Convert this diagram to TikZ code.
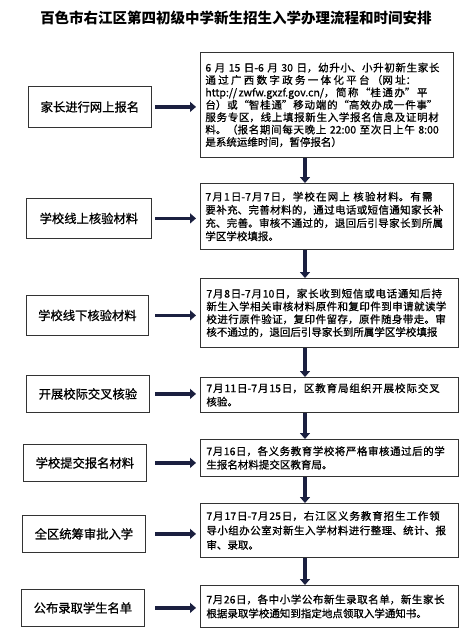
\documentclass[tikz,border=0pt]{standalone}
\usepackage{fontspec}
\setmainfont{Noto Sans CJK SC}
\newfontfamily\bodyfont[FakeBold=0.8]{Noto Sans CJK SC}
\usetikzlibrary{arrows.meta}
\definecolor{navy}{HTML}{1B2040}
\definecolor{edge}{HTML}{333333}
\XeTeXlinebreaklocale "zh"
\XeTeXlinebreakskip=0pt plus 1.5pt
\tolerance=10000
\hbadness=10000
\begin{document}
\begin{tikzpicture}[x=1pt,y=-1pt,
  rbox/.style={draw=edge, line width=0.8pt, fill=white, text width=243pt, inner xsep=5pt, inner ysep=0pt,
    font=\bodyfont\fontsize{10.5}{12.8}\selectfont, anchor=north west},
  rboxw/.style={rbox, text width=246pt, inner xsep=6pt},
  lbox/.style={draw=edge, line width=0.8pt, fill=white, inner sep=0pt, minimum height=39pt,
    font=\bodyfont\fontsize{12.3}{14}\selectfont, anchor=north west},
  harrow/.style={draw=navy, line width=3.8pt, -{Triangle[width=10pt,length=6pt]}},
  varrow/.style={harrow}
]
\useasboundingbox (0,0) rectangle (475,633);
\fill[white] (0,0) rectangle (475,633);

\node[font=\fontsize{14.5}{16}\selectfont\bfseries] (title) at (236,18) {百色市右江区第四初级中学新生招生入学办理流程和时间安排};

% right boxes
\node[rbox, minimum height=105pt, font=\bodyfont\fontsize{10.5}{12.4}\selectfont] (r1) at (200,52) {6 月 15 日-6 月 30 日，幼升小、小升初新生家长\linebreak
通过广西数字政务一体化平台（网址：\linebreak
http://zwfw.gxzf.gov.cn/，简称“桂通办”平\linebreak
台）或“智桂通”移动端的“高效办成一件事”\linebreak
服务专区，线上填报新生入学报名信息及证明材\linebreak
料。（报名期间每天晚上 22:00 至次日上午 8:00\linebreak
是系统运维时间，暂停报名）};

\node[rbox, minimum height=66pt, font=\bodyfont\fontsize{10.5}{13.2}\selectfont] (r2) at (200,183) {7月1日-7月7日，学校在网上 核验材料。有需\linebreak
要补充、完善材料的，通过电话或短信通知家长补\linebreak
充、完善。审核不通过的，退回后引导家长到所属\linebreak
学区学校填报。};

\node[rboxw, minimum height=69pt, font=\bodyfont\fontsize{10.5}{12.8}\selectfont] (r3) at (200,278) {\parfillskip=0pt 7月8日-7月10日，家长收到短信或电话通知后持\linebreak
新生入学相关审核材料原件和复印件到申请就读学\linebreak
校进行原件验证，复印件留存，原件随身带走。审\linebreak
核不通过的，退回后引导家长到所属学区学校填报};

\node[rboxw, minimum height=35pt, font=\bodyfont\fontsize{10.5}{13.5}\selectfont] (r4) at (200,377) {7月11日-7月15日，区教育局组织开展校际交叉\linebreak
核验。};

\node[rboxw, minimum height=37pt, font=\bodyfont\fontsize{10.5}{13.5}\selectfont] (r5) at (200,439) {7月16日，各义务教育学校将严格审核通过后的学\linebreak
生报名材料提交区教育局。};

\node[rboxw, minimum height=54pt, font=\bodyfont\fontsize{10.5}{14.5}\selectfont] (r6) at (200,503) {7月17日-7月25日，右江区义务教育招生工作领\linebreak
导小组办公室对新生入学材料进行整理、统计、报\linebreak
审、录取。};

\node[rboxw, minimum height=42pt, font=\bodyfont\fontsize{10.5}{14}\selectfont] (r7) at (200,585) {7月26日，各中小学公布新生录取名单，新生家长\linebreak
根据录取学校通知到指定地点领取入学通知书。};

% left boxes
\node[lbox, minimum width=123pt, minimum height=41pt] (l1) at (28,86) {家长进行网上报名};
\node[lbox, minimum width=125pt, minimum height=40pt] (l2) at (26,198) {学校线上核验材料};
\node[lbox, minimum width=122pt, minimum height=40pt] (l3) at (26,295) {学校线下核验材料};
\node[lbox, minimum width=123pt, minimum height=37pt] (l4) at (26,375) {开展校际交叉核验};
\node[lbox, minimum width=123pt, minimum height=37pt] (l5) at (23,444) {学校提交报名材料};
\node[lbox, minimum width=123pt, minimum height=37pt] (l6) at (22,515) {全区统筹审批入学};
\node[lbox, minimum width=123pt, minimum height=37pt] (l7) at (21,589) {公布录取学生名单};

% helper coordinates
\coordinate (hx) at (155,0);
\coordinate (ax) at (305,0);

% horizontal arrows
\foreach \i in {1,...,7}{
  \draw[harrow] (l\i.east -| hx) -- ([xshift=-4pt]l\i.east -| r\i.west);
}
% vertical arrows
\draw[varrow] (r1.south -| ax) -- (r2.north -| ax);
\draw[varrow] (r2.south -| ax) -- (r3.north -| ax);
\draw[varrow] (r3.south -| ax) -- (r4.north -| ax);
\draw[varrow] (r4.south -| ax) -- (r5.north -| ax);
\draw[varrow] (r5.south -| ax) -- (r6.north -| ax);
\draw[varrow] (r6.south -| ax) -- (r7.north -| ax);
\end{tikzpicture}
\end{document}
